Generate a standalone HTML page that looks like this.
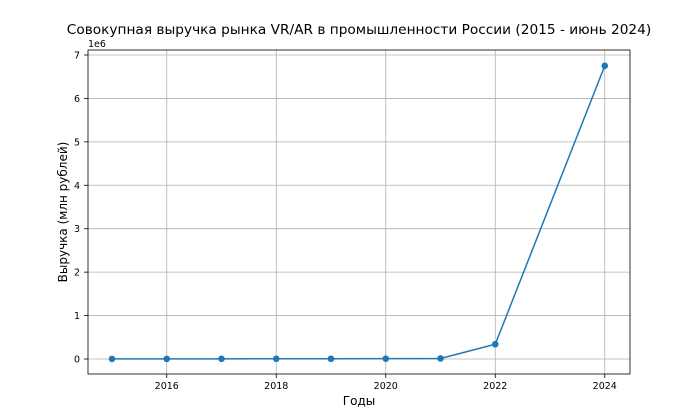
<!DOCTYPE html>
<html><head><meta charset="utf-8"><style>
body{margin:0;background:#fff;}
svg{display:block;font-family:"DejaVu Sans","Liberation Sans",sans-serif;}
</style></head><body>
<svg id="chart" width="700" height="420">
<rect width="700" height="420" fill="#fff"/>
<text x="359" y="34" font-size="13.7" text-anchor="middle">Совокупная выручка рынка VR/AR в промышленности России (2015 - июнь 2024)</text>
<text x="88" y="47" font-size="9.5">1e6</text>
<text x="359" y="405" font-size="12" text-anchor="middle">Годы</text>
<text transform="translate(67,212) rotate(-90)" font-size="12" text-anchor="middle">Выручка (млн рублей)</text>
<g id="grid"></g><g id="ticks"></g><g id="marks"></g>
<rect x="88" y="50" width="542" height="324" fill="none" stroke="#000" stroke-width="0.8"/>
</svg>
<script>
const years=[2015,2016,2017,2018,2019,2020,2021,2022,2024];
const revenue=[2000,3000,4000,5000,6000,8000,12000,340000,6750000];
const xTicks=[2016,2018,2020,2022,2024];
const yTicks=[0,1,2,3,4,5,6,7];
const NS="http://www.w3.org/2000/svg";
const X=v=>112+(v-2015)*54.75;
const Y=v=>359-v/1e6*43.43;
function mk(t,a,p){const e=document.createElementNS(NS,t);for(const k in a)e.setAttribute(k,a[k]);p.appendChild(e);return e;}
const g=document.getElementById('grid'),tk=document.getElementById('ticks'),m=document.getElementById('marks');
xTicks.forEach(v=>{const x=X(v);
const l=mk('line',{x1:x,x2:x,y1:50,y2:374,stroke:'#b0b0b0','stroke-width':0.8},g);


mk('line',{x1:x,x2:x,y1:374,y2:378,stroke:'#000','stroke-width':0.8},tk);
const t=mk('text',{x:x,y:389,'font-size':9.5,'text-anchor':'middle'},tk);t.textContent=v;

});
yTicks.forEach(v=>{const y=Y(v*1e6);
const l=mk('line',{x1:88,x2:630,y1:y,y2:y,stroke:'#b0b0b0','stroke-width':0.8},g);


mk('line',{x1:84,x2:88,y1:y,y2:y,stroke:'#000','stroke-width':0.8},tk);
const t=mk('text',{x:80,y:y+3.5,'font-size':9.5,'text-anchor':'end'},tk);t.textContent=v;

});
const pl=mk('polyline',{points:years.map((yr,i)=>X(yr)+','+Y(revenue[i])).join(' '),fill:'none',stroke:'#1f77b4','stroke-width':1.5},m);


years.forEach((yr,i)=>{const c=mk('circle',{cx:X(yr),cy:Y(revenue[i]),r:3.3,fill:'#1f77b4'},m);

});
</script>
</body></html>
